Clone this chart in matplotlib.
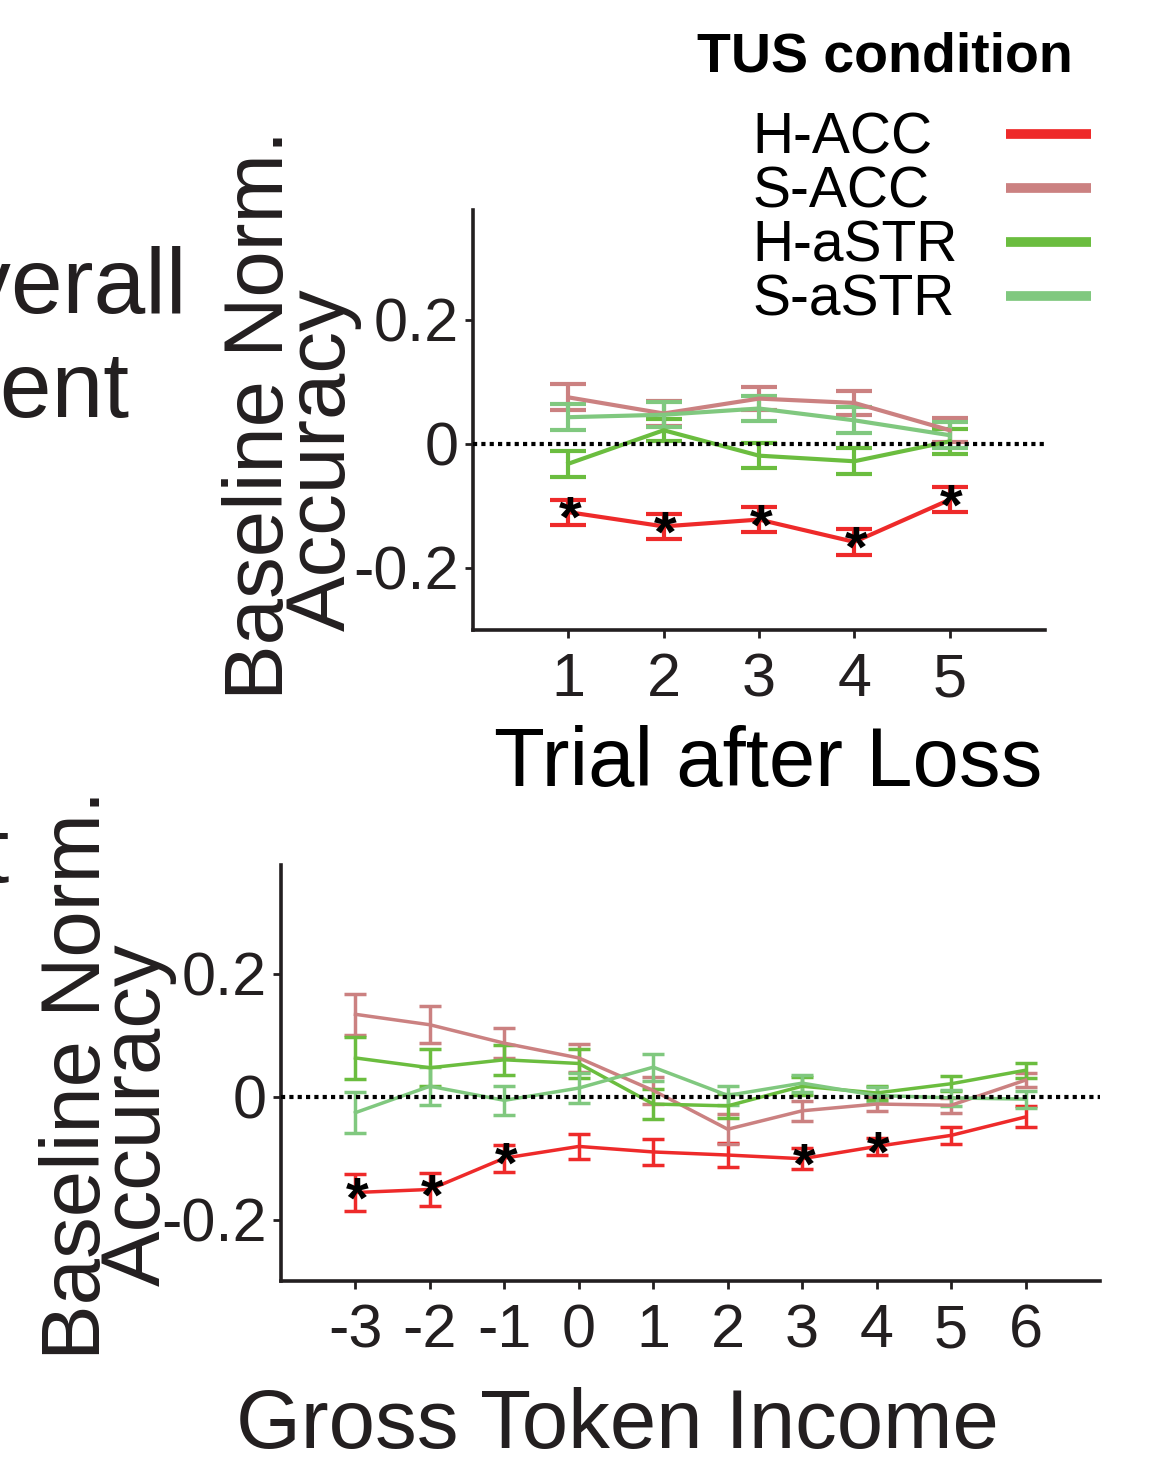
import matplotlib
matplotlib.use('Agg')
import matplotlib.pyplot as plt

plt.rcParams['font.family'] = ['Liberation Sans', 'DejaVu Sans']

W, H = 1154, 1460
INK = '#231F20'

conditions = ['H-ACC', 'S-ACC', 'H-aSTR', 'S-aSTR']
colors = ['#EE2A2A', '#CB8181', '#6BBD3F', '#80C87F']

# ---- Panel 1: trial after loss ----
trial_after_loss = [1, 2, 3, 4, 5]
loss_h_acc = [-0.110, -0.133, -0.122, -0.158, -0.090]
loss_h_acc_err = [0.020, 0.020, 0.020, 0.021, 0.020]
loss_s_acc = [0.075, 0.049, 0.073, 0.066, 0.022]
loss_s_acc_err = [0.021, 0.020, 0.019, 0.020, 0.019]
loss_h_astr = [-0.032, 0.022, -0.019, -0.028, 0.004]
loss_h_astr_err = [0.021, 0.018, 0.020, 0.021, 0.020]
loss_s_astr = [0.043, 0.047, 0.057, 0.038, 0.014]
loss_s_astr_err = [0.021, 0.020, 0.020, 0.021, 0.021]
loss_sig_h_acc = [1, 1, 1, 1, 1]

# ---- Panel 2: gross token income ----
token_income = [-3, -2, -1, 0, 1, 2, 3, 4, 5, 6]
inc_h_acc = [-0.156, -0.151, -0.100, -0.081, -0.090, -0.095, -0.101, -0.081, -0.063, -0.033]
inc_h_acc_err = [0.030, 0.027, 0.022, 0.021, 0.021, 0.019, 0.017, 0.014, 0.014, 0.017]
inc_s_acc = [0.134, 0.117, 0.087, 0.063, 0.010, -0.053, -0.023, -0.012, -0.014, 0.027]
inc_s_acc_err = [0.033, 0.030, 0.024, 0.023, 0.022, 0.024, 0.016, 0.012, 0.012, 0.012]
inc_h_astr = [0.063, 0.047, 0.060, 0.054, -0.012, -0.015, 0.017, 0.006, 0.021, 0.043]
inc_h_astr_err = [0.034, 0.030, 0.024, 0.023, 0.025, 0.019, 0.015, 0.012, 0.012, 0.012]
inc_s_astr = [-0.026, 0.017, -0.006, 0.014, 0.048, 0.002, 0.022, 0.002, -0.002, -0.004]
inc_s_astr_err = [0.033, 0.031, 0.024, 0.025, 0.022, 0.016, 0.014, 0.013, 0.013, 0.014]
inc_sig_h_acc = [1, 1, 1, 0, 0, 0, 1, 1, 0, 0]

y_ticks = [-0.2, 0, 0.2]
y_ticklabels = ['-0.2', '0', '0.2']

fig = plt.figure(figsize=(W / 100, H / 100), dpi=100)

ax1 = fig.add_axes([473 / W, 1 - 630 / H, 572 / W, 420 / H])
ax2 = fig.add_axes([281 / W, 1 - 1281 / H, 819 / W, 416 / H])


def draw_panel(ax, x, means, errs, sig, lw, cap, star_off):
    handles = []
    for m, e, c in zip(means, errs, colors):
        cont = ax.errorbar(x, m, yerr=e, color=c, lw=lw, elinewidth=lw,
                           capsize=cap, capthick=lw, zorder=2)
        handles.append(cont.lines[0])
    ax.axhline(0, color='black', lw=3.0, linestyle=(0, (1, 1)), zorder=5)
    for xi, yi, s in zip(x, means[0], sig):
        if s:
            ax.annotate('*', (xi, yi), xytext=(1.5, star_off), textcoords='offset points',
                        ha='center', va='center', fontsize=42, fontweight='bold',
                        color='black', zorder=10)
    for sp in ['top', 'right']:
        ax.spines[sp].set_visible(False)
    for sp in ['left', 'bottom']:
        ax.spines[sp].set_linewidth(2.6)
        ax.spines[sp].set_color(INK)
    ax.tick_params(length=6, width=2, color=INK, labelsize=44, labelcolor=INK, pad=4)
    ax.tick_params(axis='x', pad=10)
    ax.set_yticks(y_ticks)
    ax.set_yticklabels(y_ticklabels)
    ax.set_ylim(-0.3, 0.377)
    return handles


handles = draw_panel(ax1, trial_after_loss,
                     [loss_h_acc, loss_s_acc, loss_h_astr, loss_s_astr],
                     [loss_h_acc_err, loss_s_acc_err, loss_h_astr_err, loss_s_astr_err],
                     loss_sig_h_acc, 3.0, 13, -7)
ax1.set_xlim(0, 6)
ax1.set_xticks(trial_after_loss)
ax1.set_xticklabels([str(v) for v in trial_after_loss])
ax1.set_xlabel('Trial after Loss', fontsize=60, color='black')
ax1.xaxis.set_label_coords(0.516, -0.226)

draw_panel(ax2, token_income,
           [inc_h_acc, inc_s_acc, inc_h_astr, inc_s_astr],
           [inc_h_acc_err, inc_s_acc_err, inc_h_astr_err, inc_s_astr_err],
           inc_sig_h_acc, 2.5, 8, -7)
ax2.set_xlim(-4, 7)
ax2.set_xticks(token_income)
ax2.set_xticklabels([str(v) for v in token_income])
ax2.set_xlabel('Gross Token Income', fontsize=60, color=INK)
ax2.xaxis.set_label_coords(0.411, -0.254)


# y labels (two lines placed separately, as in the reference)
def ylab(x_px, y_px, s):
    fig.text(x_px / W, 1 - y_px / H, s, rotation=90, rotation_mode='anchor',
             ha='center', va='baseline', fontsize=60, color=INK)


ylab(283, 415, 'Baseline Norm.')
ylab(345, 460, 'Accuracy')
ylab(100, 1075, 'Baseline Norm.')
ylab(160, 1115, 'Accuracy')

# cut-off panel labels from neighbouring panels
fig.text(187 / W, 1 - 313 / H, 'Overall', ha='right', va='baseline', fontsize=67, color=INK)
fig.text(130 / W, 1 - 417 / H, 'Adjustment', ha='right', va='baseline', fontsize=67, color=INK)
fig.text(10 / W, 1 - 882 / H, 'Effect', ha='right', va='baseline', fontsize=67, color=INK)

# legend: labels left-aligned, handles on the right
LEG_FS = 41
TEXTPAD = 0.85
leg = fig.legend(handles, conditions, loc='upper left',
                 bbox_to_anchor=(752 / W, 1 - 112 / H), frameon=False,
                 markerfirst=False, fontsize=LEG_FS, handlelength=1.5,
                 handletextpad=TEXTPAD, labelspacing=0.0, borderpad=0, borderaxespad=0)
for ln in leg.get_lines():
    ln.set_linewidth(7)
    ln.set_solid_capstyle('butt')

fig.canvas.draw()
renderer = fig.canvas.get_renderer()
widths = [t.get_window_extent(renderer).width for t in leg.texts]
maxw = max(widths)
for col in leg._legend_handle_box.get_children():
    col.align = 'left'
    for item, w in zip(col.get_children(), widths):
        item.sep = TEXTPAD * LEG_FS + (maxw - w) * 72 / fig.dpi

fig.text(885 / W, 1 - 72 / H, 'TUS condition', ha='center', va='baseline',
         fontsize=40, fontweight='bold', color='black')

fig.savefig('out.png', dpi=100)
